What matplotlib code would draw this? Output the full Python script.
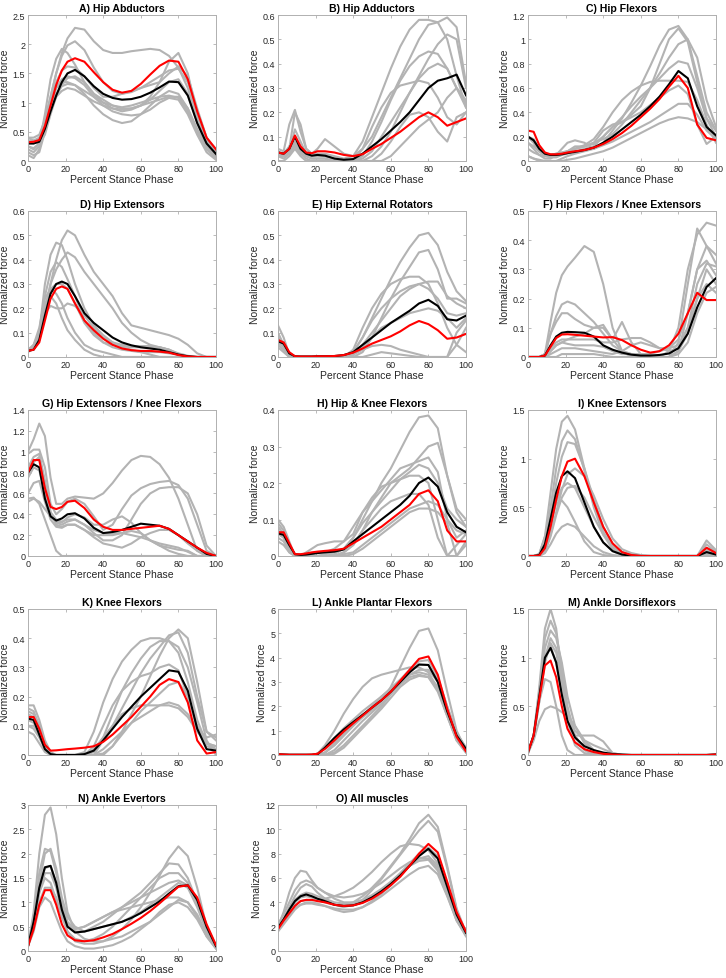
import matplotlib
matplotlib.use('Agg')
import matplotlib.pyplot as plt
from matplotlib.ticker import FormatStrFormatter, MultipleLocator

plt.rcParams['font.family'] = ['Liberation Sans', 'DejaVu Sans']

# percent stance phase sample points
x = [0, 3, 6, 9, 12, 15, 18, 21, 25, 30, 35, 40, 45, 50, 55, 60, 65, 70, 75, 80, 85, 90, 95, 100]

# A) Hip Abductors
a_gray = [
    [0.35, 0.35, 0.4, 0.7, 1.1, 1.5, 1.85, 2.1, 2.28, 2.25, 2.05, 1.9, 1.85, 1.85, 1.88, 1.9, 1.92, 1.9, 1.8, 1.6, 1.25, 0.75, 0.35, 0.1],
    [0.25, 0.2, 0.3, 0.8, 1.4, 1.75, 1.92, 1.85, 1.65, 1.35, 1.15, 1.05, 0.95, 0.9, 0.9, 0.95, 1.1, 1.35, 1.7, 1.85, 1.5, 0.8, 0.3, 0.1],
    [0.4, 0.4, 0.45, 0.7, 1.1, 1.5, 1.8, 1.98, 2.05, 1.9, 1.6, 1.35, 1.2, 1.15, 1.18, 1.25, 1.35, 1.45, 1.55, 1.58, 1.35, 0.85, 0.4, 0.2],
    [0.1, 0.05, 0.2, 0.55, 0.9, 1.15, 1.28, 1.32, 1.3, 1.15, 0.95, 0.8, 0.7, 0.65, 0.68, 0.8, 0.95, 1.1, 1.2, 1.15, 0.9, 0.5, 0.2, 0.05],
    [0.2, 0.15, 0.25, 0.6, 1.0, 1.25, 1.35, 1.35, 1.3, 1.2, 1.1, 1.0, 0.95, 0.92, 0.95, 1.0, 1.05, 1.1, 1.12, 1.08, 0.85, 0.5, 0.2, 0.1],
    [0.3, 0.3, 0.35, 0.65, 1.05, 1.35, 1.55, 1.62, 1.6, 1.45, 1.25, 1.1, 1.1, 1.15, 1.2, 1.25, 1.3, 1.35, 1.5, 1.62, 1.45, 0.9, 0.4, 0.15],
    [0.25, 0.22, 0.3, 0.55, 0.9, 1.1, 1.2, 1.25, 1.22, 1.12, 1.02, 0.95, 0.9, 0.88, 0.9, 0.95, 1.0, 1.05, 1.1, 1.1, 0.9, 0.55, 0.25, 0.08],
    [0.4, 0.35, 0.3, 0.45, 0.8, 1.1, 1.3, 1.42, 1.45, 1.35, 1.15, 1.0, 0.9, 0.85, 0.88, 0.95, 1.05, 1.2, 1.35, 1.4, 1.15, 0.65, 0.3, 0.12],
    [0.15, 0.1, 0.15, 0.5, 0.95, 1.25, 1.4, 1.45, 1.42, 1.3, 1.1, 0.95, 0.85, 0.8, 0.78, 0.8, 0.88, 1.0, 1.08, 1.05, 0.8, 0.45, 0.15, 0.02],
]
a_black = [0.3, 0.3, 0.33, 0.55, 0.85, 1.12, 1.35, 1.5, 1.56, 1.45, 1.28, 1.15, 1.08, 1.05, 1.06, 1.1, 1.17, 1.26, 1.36, 1.35, 1.12, 0.65, 0.3, 0.12]
a_red = [0.32, 0.33, 0.36, 0.6, 0.95, 1.3, 1.55, 1.7, 1.76, 1.7, 1.52, 1.35, 1.22, 1.17, 1.2, 1.32, 1.48, 1.63, 1.72, 1.7, 1.4, 0.85, 0.4, 0.2]

# B) Hip Adductors
b_gray = [
    [0.05, 0.04, 0.15, 0.21, 0.12, 0.05, 0.03, 0.03, 0.03, 0.02, 0.01, 0.02, 0.08, 0.18, 0.28, 0.38, 0.47, 0.54, 0.58, 0.58, 0.57, 0.5, 0.35, 0.22],
    [0.03, 0.02, 0.05, 0.2, 0.15, 0.05, 0.03, 0.05, 0.09, 0.06, 0.03, 0.02, 0.05, 0.1, 0.18, 0.26, 0.34, 0.42, 0.5, 0.56, 0.57, 0.59, 0.55, 0.32],
    [0.02, 0.02, 0.04, 0.13, 0.08, 0.03, 0.02, 0.02, 0.02, 0.01, 0.0, 0.0, 0.01, 0.04, 0.1, 0.16, 0.22, 0.28, 0.35, 0.42, 0.48, 0.52, 0.5, 0.3],
    [0.04, 0.03, 0.06, 0.1, 0.05, 0.03, 0.02, 0.02, 0.02, 0.01, 0.0, 0.0, 0.02, 0.08, 0.16, 0.25, 0.33, 0.39, 0.43, 0.45, 0.44, 0.38, 0.3, 0.22],
    [0.02, 0.02, 0.03, 0.08, 0.04, 0.02, 0.01, 0.01, 0.01, 0.0, 0.0, 0.0, 0.05, 0.14, 0.22, 0.28, 0.31, 0.32, 0.33, 0.32, 0.26, 0.18, 0.15, 0.2],
    [0.03, 0.02, 0.04, 0.07, 0.03, 0.02, 0.01, 0.01, 0.01, 0.0, 0.0, 0.0, 0.0, 0.02, 0.06, 0.12, 0.2, 0.28, 0.34, 0.38, 0.4, 0.38, 0.3, 0.24],
    [0.02, 0.01, 0.03, 0.06, 0.03, 0.01, 0.0, 0.0, 0.0, 0.0, 0.0, 0.0, 0.0, 0.0, 0.03, 0.08, 0.14, 0.19, 0.2, 0.18, 0.12, 0.08, 0.18, 0.2],
    [0.0, 0.0, 0.02, 0.05, 0.02, 0.0, 0.0, 0.0, 0.0, 0.0, 0.0, 0.0, 0.0, 0.0, 0.0, 0.02, 0.06, 0.1, 0.14, 0.17, 0.2, 0.26, 0.3, 0.25],
]
b_black = [0.035, 0.03, 0.05, 0.1, 0.05, 0.03, 0.022, 0.025, 0.022, 0.01, 0.005, 0.008, 0.03, 0.06, 0.09, 0.125, 0.16, 0.2, 0.25, 0.3, 0.33, 0.34, 0.355, 0.27]
b_red = [0.035, 0.03, 0.05, 0.105, 0.06, 0.035, 0.032, 0.04, 0.04, 0.035, 0.025, 0.02, 0.028, 0.05, 0.07, 0.095, 0.12, 0.15, 0.18, 0.2, 0.18, 0.145, 0.16, 0.175]

# C) Hip Flexors
c_gray = [
    [0.15, 0.1, 0.05, 0.02, 0.02, 0.05, 0.1, 0.15, 0.17, 0.15, 0.1, 0.15, 0.25, 0.35, 0.48, 0.62, 0.78, 0.95, 1.08, 1.11, 1.0, 0.7, 0.4, 0.25],
    [0.2, 0.15, 0.08, 0.04, 0.03, 0.03, 0.05, 0.08, 0.12, 0.12, 0.15, 0.25, 0.3, 0.32, 0.38, 0.45, 0.6, 0.8, 1.0, 1.09, 0.98, 0.65, 0.35, 0.2],
    [0.2, 0.18, 0.1, 0.05, 0.04, 0.05, 0.06, 0.08, 0.1, 0.12, 0.15, 0.18, 0.22, 0.3, 0.4, 0.5, 0.6, 0.72, 0.85, 0.96, 1.0, 0.85, 0.5, 0.28],
    [0.15, 0.12, 0.08, 0.05, 0.05, 0.06, 0.07, 0.08, 0.1, 0.12, 0.14, 0.2, 0.28, 0.36, 0.45, 0.53, 0.6, 0.68, 0.76, 0.82, 0.8, 0.6, 0.35, 0.25],
    [0.1, 0.07, 0.05, 0.04, 0.05, 0.06, 0.07, 0.08, 0.1, 0.13, 0.18, 0.28, 0.4, 0.5, 0.57, 0.62, 0.65, 0.66, 0.66, 0.66, 0.65, 0.5, 0.3, 0.15],
    [0.04, 0.02, 0.01, 0.0, 0.0, 0.0, 0.02, 0.04, 0.06, 0.08, 0.1, 0.13, 0.16, 0.2, 0.24, 0.28, 0.32, 0.37, 0.42, 0.47, 0.47, 0.38, 0.25, 0.18],
    [0.04, 0.02, 0.0, 0.0, 0.0, 0.0, 0.0, 0.01, 0.02, 0.04, 0.06, 0.08, 0.11, 0.15, 0.19, 0.23, 0.27, 0.31, 0.34, 0.36, 0.35, 0.32, 0.26, 0.2],
    [0.2, 0.15, 0.08, 0.05, 0.04, 0.04, 0.05, 0.06, 0.08, 0.1, 0.12, 0.2, 0.28, 0.32, 0.36, 0.4, 0.46, 0.52, 0.58, 0.62, 0.55, 0.3, 0.14, 0.2],
]
c_black = [0.2, 0.17, 0.1, 0.06, 0.05, 0.05, 0.055, 0.065, 0.075, 0.09, 0.11, 0.15, 0.2, 0.26, 0.32, 0.38, 0.45, 0.53, 0.63, 0.74, 0.68, 0.45, 0.28, 0.21]
c_red = [0.25, 0.24, 0.13, 0.07, 0.055, 0.055, 0.06, 0.07, 0.08, 0.09, 0.11, 0.14, 0.18, 0.23, 0.29, 0.36, 0.43, 0.51, 0.61, 0.7, 0.6, 0.3, 0.19, 0.17]

# D) Hip Extensors
d_gray = [
    [0.03, 0.04, 0.08, 0.18, 0.3, 0.4, 0.48, 0.52, 0.5, 0.42, 0.35, 0.3, 0.25, 0.18, 0.13, 0.12, 0.11, 0.1, 0.09, 0.075, 0.05, 0.015, 0, 0],
    [0.03, 0.05, 0.1, 0.3, 0.42, 0.47, 0.46, 0.4, 0.3, 0.2, 0.13, 0.09, 0.06, 0.04, 0.03, 0.02, 0.01, 0, 0, 0, 0, 0, 0, 0],
    [0.03, 0.04, 0.08, 0.2, 0.3, 0.36, 0.4, 0.43, 0.41, 0.35, 0.3, 0.25, 0.2, 0.14, 0.1, 0.07, 0.05, 0.04, 0.03, 0.015, 0.005, 0, 0, 0],
    [0.03, 0.04, 0.1, 0.25, 0.35, 0.39, 0.37, 0.32, 0.25, 0.15, 0.1, 0.06, 0.04, 0.03, 0.025, 0.02, 0.02, 0.02, 0.015, 0.01, 0, 0, 0, 0],
    [0.02, 0.04, 0.1, 0.22, 0.25, 0.22, 0.16, 0.11, 0.07, 0.03, 0.01, 0, 0, 0, 0, 0, 0, 0, 0, 0, 0, 0, 0, 0],
    [0.03, 0.04, 0.08, 0.18, 0.21, 0.2, 0.2, 0.22, 0.21, 0.17, 0.12, 0.08, 0.06, 0.05, 0.045, 0.045, 0.045, 0.04, 0.03, 0.01, 0, 0, 0, 0],
    [0.03, 0.04, 0.08, 0.2, 0.28, 0.3, 0.3, 0.28, 0.22, 0.14, 0.09, 0.06, 0.05, 0.045, 0.04, 0.04, 0.04, 0.04, 0.03, 0.01, 0, 0, 0, 0],
    [0.02, 0.05, 0.12, 0.24, 0.28, 0.26, 0.22, 0.16, 0.1, 0.05, 0.03, 0.02, 0.01, 0, 0, 0, 0, 0, 0, 0, 0, 0, 0, 0],
]
d_black = [0.025, 0.03, 0.07, 0.17, 0.26, 0.3, 0.31, 0.3, 0.25, 0.18, 0.14, 0.11, 0.08, 0.06, 0.048, 0.04, 0.035, 0.03, 0.02, 0.01, 0.003, 0, 0, 0]
d_red = [0.025, 0.03, 0.06, 0.15, 0.24, 0.28, 0.29, 0.28, 0.22, 0.15, 0.11, 0.075, 0.05, 0.035, 0.028, 0.025, 0.025, 0.022, 0.018, 0.008, 0.002, 0, 0, 0]

# E) Hip External Rotators
e_gray = [
    [0.1, 0.05, 0.01, 0, 0, 0, 0, 0, 0, 0, 0, 0.02, 0.08, 0.16, 0.24, 0.32, 0.39, 0.45, 0.5, 0.51, 0.46, 0.35, 0.27, 0.23],
    [0.13, 0.08, 0.01, 0, 0, 0, 0, 0, 0, 0, 0, 0, 0.02, 0.08, 0.16, 0.24, 0.31, 0.37, 0.43, 0.44, 0.36, 0.24, 0.24, 0.22],
    [0.08, 0.05, 0.01, 0, 0, 0, 0, 0, 0, 0, 0, 0.03, 0.12, 0.2, 0.26, 0.3, 0.32, 0.33, 0.33, 0.3, 0.22, 0.12, 0.05, 0.02],
    [0.06, 0.04, 0.0, 0, 0, 0, 0, 0, 0, 0, 0, 0.01, 0.05, 0.1, 0.15, 0.2, 0.25, 0.28, 0.3, 0.31, 0.31, 0.25, 0.22, 0.2],
    [0.05, 0.03, 0, 0, 0, 0, 0, 0, 0, 0, 0, 0.01, 0.04, 0.08, 0.12, 0.14, 0.16, 0.18, 0.19, 0.2, 0.19, 0.16, 0.12, 0.16],
    [0.04, 0.02, 0, 0, 0, 0, 0, 0, 0, 0, 0, 0.01, 0.03, 0.045, 0.05, 0.045, 0.03, 0.02, 0.01, 0, 0, 0, 0.05, 0.12],
    [0.08, 0.05, 0.01, 0, 0, 0, 0, 0, 0, 0, 0, 0.02, 0.08, 0.15, 0.2, 0.24, 0.27, 0.29, 0.3, 0.28, 0.24, 0.18, 0.17, 0.18],
    [0.09, 0.05, 0.01, 0, 0, 0, 0, 0, 0, 0, 0, 0, 0, 0.01, 0.02, 0.015, 0.01, 0.005, 0, 0, 0, 0, 0.1, 0.15],
]
e_black = [0.065, 0.055, 0.015, 0.003, 0.002, 0.002, 0.002, 0.003, 0.003, 0.004, 0.008, 0.02, 0.05, 0.08, 0.11, 0.14, 0.165, 0.19, 0.22, 0.235, 0.21, 0.155, 0.15, 0.17]
e_red = [0.07, 0.06, 0.02, 0.003, 0.002, 0.002, 0.002, 0.003, 0.003, 0.004, 0.008, 0.018, 0.035, 0.055, 0.07, 0.085, 0.105, 0.13, 0.148, 0.135, 0.11, 0.075, 0.08, 0.095]

# F) Hip Flexors / Knee Extensors
f_gray = [
    [0, 0, 0, 0.01, 0.12, 0.22, 0.28, 0.31, 0.34, 0.38, 0.36, 0.25, 0.1, 0.02, 0, 0, 0, 0, 0, 0.05, 0.25, 0.44, 0.38, 0.32],
    [0, 0, 0, 0.01, 0.08, 0.14, 0.18, 0.19, 0.18, 0.15, 0.12, 0.08, 0.04, 0.02, 0.01, 0, 0, 0, 0.02, 0.1, 0.3, 0.42, 0.46, 0.45],
    [0, 0, 0, 0.01, 0.08, 0.12, 0.15, 0.15, 0.13, 0.11, 0.1, 0.1, 0.06, 0.12, 0.05, 0.01, 0, 0, 0, 0.02, 0.15, 0.3, 0.33, 0.28],
    [0, 0, 0, 0, 0.03, 0.05, 0.06, 0.06, 0.06, 0.06, 0.06, 0.05, 0.05, 0.06, 0.065, 0.065, 0.05, 0.03, 0.02, 0.03, 0.1, 0.2, 0.3, 0.25],
    [0, 0, 0, 0, 0.02, 0.04, 0.05, 0.06, 0.07, 0.08, 0.1, 0.11, 0.06, 0.02, 0.01, 0, 0, 0, 0, 0.02, 0.08, 0.2, 0.25, 0.22],
    [0, 0, 0, 0, 0.01, 0.02, 0.03, 0.03, 0.03, 0.025, 0.02, 0.015, 0.01, 0.02, 0.04, 0.05, 0.04, 0.03, 0.03, 0.04, 0.1, 0.25, 0.32, 0.31],
    [0, 0, 0, 0, 0, 0, 0.01, 0.01, 0.01, 0.01, 0.01, 0.005, 0, 0, 0, 0, 0, 0, 0, 0.01, 0.05, 0.15, 0.22, 0.24],
    [0, 0, 0, 0, 0.02, 0.04, 0.05, 0.045, 0.04, 0.04, 0.04, 0.035, 0.02, 0.01, 0.01, 0.01, 0.01, 0.02, 0.03, 0.06, 0.15, 0.3, 0.38, 0.35],
]
f_black = [0, 0, 0, 0.005, 0.04, 0.07, 0.083, 0.086, 0.085, 0.083, 0.07, 0.04, 0.025, 0.015, 0.008, 0.005, 0.005, 0.007, 0.012, 0.03, 0.08, 0.17, 0.24, 0.27]
f_red = [0, 0, 0, 0.005, 0.035, 0.065, 0.077, 0.078, 0.076, 0.073, 0.07, 0.067, 0.068, 0.058, 0.04, 0.025, 0.015, 0.02, 0.04, 0.08, 0.15, 0.22, 0.195, 0.195]

# G) Hip Extensors / Knee Flexors
g_gray = [
    [1.0, 1.12, 1.27, 1.15, 0.75, 0.5, 0.5, 0.55, 0.57, 0.56, 0.55, 0.6, 0.7, 0.82, 0.92, 0.96, 0.95, 0.88, 0.75, 0.55, 0.3, 0.05, 0, 0],
    [0.98, 1.02, 1.02, 0.85, 0.5, 0.4, 0.45, 0.52, 0.55, 0.5, 0.38, 0.25, 0.3, 0.45, 0.58, 0.65, 0.69, 0.71, 0.72, 0.68, 0.55, 0.3, 0.05, 0],
    [0.55, 0.56, 0.5, 0.35, 0.2, 0.05, 0, 0, 0, 0, 0, 0, 0, 0, 0, 0, 0, 0, 0, 0, 0, 0, 0, 0],
    [0.52, 0.55, 0.52, 0.45, 0.38, 0.32, 0.3, 0.33, 0.35, 0.3, 0.22, 0.15, 0.15, 0.2, 0.35, 0.5, 0.6, 0.65, 0.66, 0.66, 0.6, 0.4, 0.1, 0],
    [0.78, 0.9, 0.95, 0.7, 0.42, 0.35, 0.33, 0.35, 0.35, 0.3, 0.25, 0.22, 0.22, 0.22, 0.2, 0.18, 0.15, 0.12, 0.1, 0.08, 0.04, 0, 0, 0],
    [0.85, 0.95, 0.98, 0.72, 0.42, 0.3, 0.28, 0.3, 0.3, 0.25, 0.2, 0.2, 0.2, 0.22, 0.24, 0.22, 0.15, 0.1, 0.08, 0.06, 0.05, 0, 0, 0],
    [0.75, 0.85, 0.82, 0.6, 0.4, 0.33, 0.32, 0.37, 0.4, 0.37, 0.3, 0.3, 0.35, 0.38, 0.32, 0.22, 0.15, 0.1, 0.05, 0.02, 0, 0, 0, 0],
    [0.6, 0.7, 0.72, 0.52, 0.35, 0.28, 0.27, 0.3, 0.3, 0.25, 0.18, 0.12, 0.1, 0.08, 0.12, 0.18, 0.22, 0.25, 0.25, 0.2, 0.12, 0.05, 0, 0],
]
g_black = [0.8, 0.88, 0.85, 0.55, 0.38, 0.34, 0.36, 0.4, 0.41, 0.36, 0.27, 0.22, 0.23, 0.25, 0.28, 0.31, 0.3, 0.29, 0.26, 0.2, 0.14, 0.08, 0.02, 0.0]
g_red = [0.8, 0.92, 0.92, 0.65, 0.47, 0.45, 0.47, 0.52, 0.53, 0.46, 0.35, 0.28, 0.25, 0.25, 0.26, 0.27, 0.28, 0.29, 0.26, 0.2, 0.14, 0.08, 0.03, 0.0]

# H) Hip & Knee Flexors
h_gray = [
    [0.1, 0.08, 0.04, 0.0, 0, 0, 0, 0, 0, 0.005, 0.02, 0.05, 0.1, 0.15, 0.2, 0.24, 0.29, 0.34, 0.38, 0.385, 0.35, 0.22, 0.12, 0.08],
    [0.09, 0.07, 0.03, 0.0, 0, 0, 0, 0, 0, 0, 0.01, 0.03, 0.07, 0.12, 0.16, 0.2, 0.22, 0.24, 0.27, 0.3, 0.31, 0.22, 0.13, 0.1],
    [0.08, 0.06, 0.03, 0.0, 0, 0, 0.005, 0.01, 0.01, 0.02, 0.04, 0.08, 0.12, 0.15, 0.18, 0.21, 0.24, 0.25, 0.26, 0.27, 0.23, 0.1, 0.05, 0.07],
    [0.07, 0.05, 0.02, 0, 0, 0.01, 0.02, 0.03, 0.035, 0.04, 0.04, 0.06, 0.12, 0.16, 0.19, 0.2, 0.21, 0.22, 0.22, 0.2, 0.1, 0.0, 0.03, 0.06],
    [0.06, 0.05, 0.02, 0, 0, 0, 0, 0, 0.005, 0.01, 0.02, 0.05, 0.09, 0.12, 0.15, 0.18, 0.21, 0.23, 0.25, 0.24, 0.2, 0.13, 0.1, 0.08],
    [0.05, 0.04, 0.01, 0, 0, 0, 0, 0, 0, 0, 0.005, 0.01, 0.03, 0.05, 0.07, 0.09, 0.11, 0.13, 0.14, 0.15, 0.14, 0.1, 0.07, 0.06],
    [0.04, 0.03, 0.01, 0, 0, 0, 0, 0, 0, 0, 0, 0.005, 0.02, 0.04, 0.06, 0.08, 0.1, 0.12, 0.13, 0.13, 0.12, 0.09, 0.0, 0.03],
    [0.08, 0.06, 0.02, 0, 0, 0, 0, 0, 0, 0, 0.01, 0.03, 0.07, 0.1, 0.13, 0.15, 0.16, 0.17, 0.17, 0.14, 0.05, 0.0, 0, 0.04],
]
h_black = [0.062, 0.058, 0.03, 0.005, 0.003, 0.004, 0.006, 0.008, 0.01, 0.012, 0.018, 0.04, 0.06, 0.08, 0.1, 0.12, 0.14, 0.165, 0.2, 0.215, 0.19, 0.12, 0.08, 0.065]
h_red = [0.065, 0.065, 0.035, 0.005, 0.005, 0.007, 0.01, 0.012, 0.014, 0.016, 0.02, 0.035, 0.05, 0.065, 0.08, 0.1, 0.12, 0.14, 0.17, 0.18, 0.15, 0.07, 0.04, 0.04]

# I) Knee Extensors
i_gray = [
    [0, 0, 0.02, 0.2, 0.65, 1.1, 1.38, 1.44, 1.3, 0.9, 0.5, 0.22, 0.07, 0.02, 0, 0, 0, 0, 0, 0, 0, 0, 0.16, 0.06],
    [0, 0, 0.01, 0.15, 0.5, 0.9, 1.18, 1.29, 1.2, 0.88, 0.52, 0.25, 0.09, 0.03, 0, 0, 0, 0, 0, 0, 0, 0, 0.12, 0.04],
    [0, 0, 0.01, 0.1, 0.4, 0.75, 1.02, 1.17, 1.15, 0.9, 0.58, 0.3, 0.12, 0.04, 0.01, 0, 0, 0, 0, 0, 0, 0, 0.08, 0.03],
    [0, 0, 0, 0.05, 0.22, 0.45, 0.68, 0.84, 0.9, 0.82, 0.62, 0.38, 0.18, 0.07, 0.03, 0.01, 0, 0, 0, 0, 0, 0, 0.06, 0.02],
    [0, 0, 0, 0.06, 0.3, 0.55, 0.7, 0.75, 0.7, 0.5, 0.3, 0.14, 0.05, 0.01, 0, 0, 0, 0, 0, 0, 0, 0, 0.04, 0.01],
    [0, 0, 0.02, 0.2, 0.42, 0.54, 0.57, 0.5, 0.35, 0.15, 0.04, 0.01, 0, 0, 0, 0, 0, 0, 0, 0, 0, 0, 0.02, 0],
    [0, 0, 0, 0.03, 0.12, 0.23, 0.3, 0.33, 0.3, 0.2, 0.1, 0.04, 0.01, 0, 0, 0, 0, 0, 0, 0, 0, 0, 0.01, 0],
    [0, 0, 0, 0.04, 0.2, 0.42, 0.6, 0.7, 0.72, 0.6, 0.4, 0.22, 0.1, 0.04, 0.01, 0, 0, 0, 0, 0, 0, 0, 0.05, 0.02],
]
i_black = [0, 0, 0.01, 0.12, 0.38, 0.65, 0.82, 0.87, 0.8, 0.55, 0.3, 0.14, 0.05, 0.015, 0.003, 0, 0, 0, 0, 0, 0, 0, 0.04, 0.015]
i_red = [0, 0, 0.005, 0.08, 0.3, 0.58, 0.82, 0.97, 1.0, 0.82, 0.55, 0.3, 0.13, 0.04, 0.01, 0, 0, 0, 0, 0, 0, 0, 0.085, 0.03]

# K) Knee Flexors
k_gray = [
    [0.17, 0.17, 0.12, 0.05, 0.01, 0, 0, 0, 0, 0, 0, 0.005, 0.03, 0.08, 0.14, 0.2, 0.27, 0.34, 0.4, 0.43, 0.4, 0.25, 0.08, 0.05],
    [0.15, 0.14, 0.1, 0.03, 0, 0, 0, 0, 0, 0.01, 0.08, 0.18, 0.26, 0.32, 0.36, 0.39, 0.4, 0.4, 0.39, 0.35, 0.25, 0.12, 0.04, 0.02],
    [0.16, 0.15, 0.1, 0.03, 0, 0, 0, 0, 0, 0, 0.02, 0.06, 0.1, 0.16, 0.22, 0.28, 0.33, 0.37, 0.41, 0.42, 0.35, 0.2, 0.08, 0.06],
    [0.12, 0.11, 0.08, 0.02, 0, 0, 0, 0, 0, 0, 0.03, 0.1, 0.17, 0.22, 0.25, 0.27, 0.28, 0.3, 0.31, 0.29, 0.2, 0.09, 0.03, 0.02],
    [0.1, 0.09, 0.06, 0.02, 0, 0, 0, 0, 0, 0, 0.01, 0.06, 0.14, 0.22, 0.28, 0.33, 0.37, 0.39, 0.39, 0.37, 0.3, 0.18, 0.05, 0.0],
    [0.08, 0.07, 0.04, 0.01, 0, 0, 0, 0, 0, 0, 0, 0.02, 0.05, 0.08, 0.11, 0.13, 0.15, 0.17, 0.18, 0.17, 0.14, 0.09, 0.06, 0.07],
    [0.14, 0.13, 0.09, 0.02, 0, 0, 0, 0, 0, 0, 0, 0.05, 0.1, 0.14, 0.16, 0.17, 0.17, 0.17, 0.17, 0.16, 0.13, 0.08, 0.04, 0.03],
    [0.1, 0.1, 0.07, 0.02, 0, 0, 0, 0, 0, 0, 0, 0.0, 0.03, 0.07, 0.11, 0.15, 0.18, 0.21, 0.24, 0.25, 0.2, 0.1, 0.04, 0.03],
]
k_black = [0.125, 0.12, 0.07, 0.02, 0.003, 0, 0, 0, 0, 0.003, 0.015, 0.05, 0.09, 0.13, 0.165, 0.2, 0.23, 0.26, 0.29, 0.285, 0.22, 0.09, 0.02, 0.015]
k_red = [0.13, 0.13, 0.09, 0.035, 0.015, 0.016, 0.018, 0.02, 0.022, 0.025, 0.03, 0.045, 0.07, 0.1, 0.13, 0.165, 0.2, 0.24, 0.26, 0.25, 0.18, 0.05, 0.005, 0.01]

# L) Ankle Plantar Flexors
l_gray = [
    [0, 0, 0, 0, 0, 0, 0, 0, 0.1, 0.4, 0.8, 1.2, 1.55, 1.85, 2.2, 2.8, 3.6, 4.4, 5.1, 5.2, 4.3, 2.6, 1.0, 0.2],
    [0, 0, 0, 0, 0, 0, 0, 0.05, 0.4, 1.0, 1.7, 2.3, 2.8, 3.15, 3.3, 3.4, 3.5, 3.6, 3.6, 3.4, 2.7, 1.6, 0.6, 0.1],
    [0, 0, 0, 0, 0, 0, 0, 0.05, 0.3, 0.7, 1.1, 1.45, 1.8, 2.1, 2.4, 2.7, 3.0, 3.3, 3.5, 3.5, 3.0, 1.9, 0.8, 0.2],
    [0, 0, 0, 0, 0, 0, 0, 0, 0.1, 0.4, 0.8, 1.2, 1.6, 2.0, 2.4, 2.75, 3.1, 3.5, 3.85, 3.9, 3.2, 2.0, 0.9, 0.3],
    [0, 0, 0, 0, 0, 0, 0, 0, 0, 0.1, 0.4, 0.8, 1.2, 1.6, 2.0, 2.5, 3.0, 3.3, 3.4, 3.3, 2.8, 1.8, 0.8, 0.2],
    [0, 0, 0, 0, 0, 0, 0, 0, 0, 0.05, 0.3, 0.7, 1.1, 1.5, 1.9, 2.35, 2.8, 3.1, 3.25, 3.2, 2.7, 1.7, 0.7, 0.15],
    [0, 0, 0, 0, 0, 0, 0, 0, 0.1, 0.5, 0.9, 1.3, 1.65, 1.95, 2.25, 2.6, 3.0, 3.4, 3.7, 3.7, 3.1, 2.0, 0.9, 0.3],
    [0, 0, 0, 0, 0, 0, 0, 0, 0, 0.2, 0.6, 1.0, 1.4, 1.75, 2.1, 2.5, 2.9, 3.2, 3.3, 3.2, 2.6, 1.6, 0.6, 0.1],
]
l_black = [0.03, 0.02, 0.01, 0.01, 0.01, 0.01, 0.01, 0.03, 0.3, 0.7, 1.05, 1.35, 1.65, 1.95, 2.25, 2.6, 3.0, 3.4, 3.72, 3.7, 3.0, 1.8, 0.8, 0.25]
l_red = [0.03, 0.02, 0.01, 0.01, 0.01, 0.01, 0.02, 0.05, 0.25, 0.6, 0.97, 1.3, 1.62, 1.95, 2.25, 2.6, 3.05, 3.5, 3.95, 4.05, 3.3, 1.9, 0.75, 0.15]

# M) Ankle Dorsiflexors
m_gray = [
    [0.02, 0.2, 0.7, 1.3, 1.5, 1.3, 0.8, 0.35, 0.1, 0.02, 0, 0, 0, 0, 0, 0, 0, 0, 0, 0, 0, 0, 0, 0],
    [0.02, 0.2, 0.65, 1.2, 1.38, 1.25, 0.9, 0.5, 0.2, 0.06, 0.01, 0, 0, 0, 0, 0, 0, 0, 0, 0, 0, 0, 0, 0],
    [0.02, 0.2, 0.6, 1.1, 1.28, 1.2, 0.95, 0.6, 0.3, 0.12, 0.04, 0.01, 0, 0, 0, 0, 0, 0, 0, 0, 0, 0, 0, 0],
    [0.02, 0.18, 0.55, 1.0, 1.2, 1.1, 0.8, 0.45, 0.18, 0.05, 0, 0, 0, 0, 0, 0, 0, 0, 0, 0, 0, 0, 0, 0],
    [0.02, 0.2, 0.55, 0.78, 0.75, 0.5, 0.2, 0.05, 0, 0, 0, 0, 0, 0, 0, 0, 0, 0, 0, 0, 0, 0, 0, 0],
    [0.02, 0.15, 0.35, 0.47, 0.5, 0.48, 0.44, 0.4, 0.3, 0.15, 0.05, 0.01, 0, 0, 0, 0, 0, 0, 0, 0, 0, 0, 0, 0],
    [0.02, 0.2, 0.6, 1.0, 1.12, 0.95, 0.6, 0.35, 0.2, 0.2, 0.2, 0.14, 0.02, 0, 0, 0, 0, 0, 0, 0, 0, 0, 0, 0],
    [0.02, 0.18, 0.55, 0.95, 1.15, 1.05, 0.75, 0.45, 0.25, 0.15, 0.1, 0.06, 0.02, 0, 0, 0, 0, 0, 0, 0, 0, 0, 0, 0.01],
]
m_black = [0.03, 0.2, 0.6, 1.0, 1.1, 0.95, 0.62, 0.35, 0.18, 0.09, 0.05, 0.025, 0.01, 0.005, 0, 0, 0, 0, 0, 0, 0, 0, 0, 0.005]
m_red = [0.03, 0.2, 0.58, 0.92, 0.97, 0.8, 0.5, 0.27, 0.13, 0.06, 0.03, 0.012, 0.005, 0, 0, 0, 0, 0, 0, 0, 0, 0, 0, 0.005]

# N) Ankle Evertors
n_gray = [
    [0.1, 0.8, 2.0, 2.8, 2.95, 2.4, 1.5, 0.8, 0.4, 0.25, 0.2, 0.2, 0.25, 0.3, 0.4, 0.5, 0.6, 0.75, 0.9, 1.05, 1.0, 0.7, 0.3, 0.05],
    [0.1, 0.7, 1.6, 2.1, 2.05, 1.6, 1.0, 0.6, 0.45, 0.5, 0.6, 0.7, 0.8, 0.9, 1.0, 1.1, 1.2, 1.3, 1.4, 1.45, 1.35, 1.0, 0.5, 0.1],
    [0.1, 0.5, 1.2, 1.6, 1.6, 1.3, 0.8, 0.4, 0.2, 0.15, 0.15, 0.2, 0.3, 0.45, 0.65, 0.9, 1.2, 1.55, 1.9, 2.15, 1.95, 1.3, 0.5, 0.1],
    [0.1, 0.6, 1.3, 1.7, 1.75, 1.4, 0.9, 0.55, 0.4, 0.4, 0.5, 0.6, 0.75, 0.9, 1.05, 1.2, 1.4, 1.6, 1.8, 1.78, 1.5, 1.0, 0.45, 0.1],
    [0.15, 0.5, 1.0, 1.3, 1.3, 1.1, 0.7, 0.4, 0.25, 0.2, 0.25, 0.35, 0.5, 0.7, 0.9, 1.1, 1.3, 1.5, 1.6, 1.6, 1.4, 1.0, 0.5, 0.1],
    [0.1, 0.4, 0.9, 1.1, 1.0, 0.7, 0.4, 0.2, 0.1, 0.05, 0.05, 0.08, 0.12, 0.2, 0.3, 0.45, 0.6, 0.8, 0.95, 1.0, 0.9, 0.65, 0.3, 0.05],
    [0.1, 0.5, 1.2, 1.5, 1.4, 1.05, 0.7, 0.5, 0.45, 0.5, 0.6, 0.7, 0.8, 0.85, 0.9, 0.95, 1.0, 1.05, 1.1, 1.1, 1.0, 0.75, 0.35, 0.08],
    [0.1, 0.6, 1.4, 2.0, 2.1, 1.7, 1.1, 0.7, 0.5, 0.4, 0.45, 0.5, 0.55, 0.6, 0.7, 0.8, 0.95, 1.1, 1.25, 1.4, 1.3, 0.9, 0.4, 0.1],
]
n_black = [0.1, 0.6, 1.3, 1.72, 1.75, 1.4, 0.85, 0.5, 0.38, 0.4, 0.45, 0.5, 0.55, 0.6, 0.68, 0.78, 0.9, 1.02, 1.18, 1.33, 1.35, 1.05, 0.5, 0.1]
n_red = [0.1, 0.45, 0.95, 1.25, 1.25, 0.95, 0.55, 0.32, 0.22, 0.2, 0.22, 0.28, 0.35, 0.45, 0.56, 0.68, 0.82, 0.98, 1.15, 1.32, 1.35, 1.1, 0.55, 0.12]

# O) All muscles
o_gray = [
    [1.8, 2.5, 3.3, 4.0, 4.4, 4.5, 4.4, 4.2, 4.0, 3.8, 3.8, 4.0, 4.5, 5.2, 6.0, 7.0, 8.0, 9.2, 10.5, 11.2, 10.2, 7.0, 3.5, 1.5],
    [1.8, 2.6, 3.6, 4.5, 5.2, 5.5, 5.3, 4.8, 4.3, 3.8, 3.6, 3.8, 4.2, 5.0, 5.9, 6.9, 7.9, 8.9, 9.9, 10.7, 9.8, 6.8, 3.4, 1.4],
    [2.0, 3.2, 4.8, 6.0, 6.6, 6.5, 5.8, 5.2, 4.8, 4.5, 4.4, 4.5, 4.7, 5.1, 5.6, 6.2, 6.8, 7.3, 7.6, 7.6, 6.8, 4.8, 2.6, 1.3],
    [1.8, 2.5, 3.2, 3.8, 4.1, 4.2, 4.2, 4.2, 4.3, 4.5, 4.8, 5.2, 5.8, 6.5, 7.3, 8.0, 8.6, 8.8, 8.7, 8.3, 7.2, 5.0, 2.8, 1.5],
    [1.7, 2.3, 3.0, 3.5, 3.8, 3.9, 3.9, 3.8, 3.7, 3.5, 3.4, 3.4, 3.6, 4.0, 4.5, 5.1, 5.7, 6.3, 6.8, 7.0, 6.3, 4.5, 2.5, 1.3],
    [1.6, 2.2, 2.8, 3.4, 3.8, 4.0, 4.0, 3.9, 3.7, 3.4, 3.2, 3.3, 3.6, 4.1, 4.7, 5.4, 6.2, 7.0, 7.6, 7.8, 7.0, 4.9, 2.7, 1.4],
    [2.2, 3.0, 4.0, 5.0, 5.6, 5.8, 5.6, 5.2, 4.8, 4.3, 4.0, 4.0, 4.2, 4.6, 5.1, 5.7, 6.4, 7.2, 8.0, 8.5, 7.8, 5.5, 3.0, 1.5],
    [1.9, 2.6, 3.5, 4.2, 4.6, 4.8, 4.7, 4.5, 4.3, 4.0, 3.9, 3.9, 4.1, 4.5, 5.0, 5.6, 6.3, 7.0, 7.4, 7.5, 6.6, 4.6, 2.5, 1.2],
]
o_black = [1.9, 2.6, 3.4, 4.1, 4.5, 4.65, 4.5, 4.3, 4.1, 3.8, 3.7, 3.75, 4.0, 4.4, 4.9, 5.5, 6.2, 7.0, 7.8, 8.4, 7.6, 5.3, 3.0, 1.5]
o_red = [1.8, 2.5, 3.1, 3.7, 4.1, 4.2, 4.2, 4.1, 4.0, 3.8, 3.7, 3.75, 3.95, 4.3, 4.8, 5.4, 6.1, 7.0, 8.0, 8.8, 8.1, 5.7, 3.2, 1.6]

titles = ['A) Hip Abductors', 'B) Hip Adductors', 'C) Hip Flexors',
          'D) Hip Extensors', 'E) Hip External Rotators', 'F) Hip Flexors / Knee Extensors',
          'G) Hip Extensors / Knee Flexors', 'H) Hip & Knee Flexors', 'I) Knee Extensors',
          'K) Knee Flexors', 'L) Ankle Plantar Flexors', 'M) Ankle Dorsiflexors',
          'N) Ankle Evertors', 'O) All muscles']
ymax = [2.5, 0.6, 1.2, 0.6, 0.6, 0.5, 1.4, 0.4, 1.5, 0.5, 6, 1.5, 3, 12]
ystep = [0.5, 0.1, 0.2, 0.1, 0.1, 0.1, 0.2, 0.1, 0.5, 0.1, 1, 0.5, 0.5, 2]
grays = [a_gray, b_gray, c_gray, d_gray, e_gray, f_gray, g_gray, h_gray, i_gray, k_gray, l_gray, m_gray, n_gray, o_gray]
blacks = [a_black, b_black, c_black, d_black, e_black, f_black, g_black, h_black, i_black, k_black, l_black, m_black, n_black, o_black]
reds = [a_red, b_red, c_red, d_red, e_red, f_red, g_red, h_red, i_red, k_red, l_red, m_red, n_red, o_red]

fig = plt.figure(figsize=(7.26, 9.79), dpi=100)
W, H = 726, 979
lefts = [28, 278, 528]
tops = [16, 212, 411, 610, 806]
aw, ah = 188, 146

for n in range(14):
    r, c = divmod(n, 3)
    ax = fig.add_axes([lefts[c] / W, 1 - (tops[r] + ah) / H, aw / W, ah / H])
    for g in grays[n]:
        ax.plot(x, g, color='#b3b3b3', lw=1.5, solid_joinstyle='round')
    ax.plot(x, blacks[n], color='black', lw=1.5, solid_joinstyle='round')
    ax.plot(x, reds[n], color='#ff0000', lw=1.5, solid_joinstyle='round')
    ax.set_xlim(0, 100)
    ax.set_ylim(0, ymax[n])
    ax.xaxis.set_major_locator(MultipleLocator(20))
    ax.yaxis.set_major_locator(MultipleLocator(ystep[n]))
    ax.yaxis.set_major_formatter(FormatStrFormatter('%g'))
    ax.tick_params(direction='in', length=2.5, width=0.6, labelsize=6.5,
                   colors='#b0b0b0', labelcolor='#262626', top=True, right=True, pad=2)
    for s in ax.spines.values():
        s.set_color('#b0b0b0')
        s.set_linewidth(0.7)
    ax.set_title(titles[n], fontsize=7.6, fontweight='bold', pad=3)
    ax.set_xlabel('Percent Stance Phase', fontsize=7.5, color='#262626', labelpad=1)
    ax.set_ylabel('Normalized force', fontsize=7.5, color='#262626', labelpad=2)

fig.savefig('out.png', dpi=100)
